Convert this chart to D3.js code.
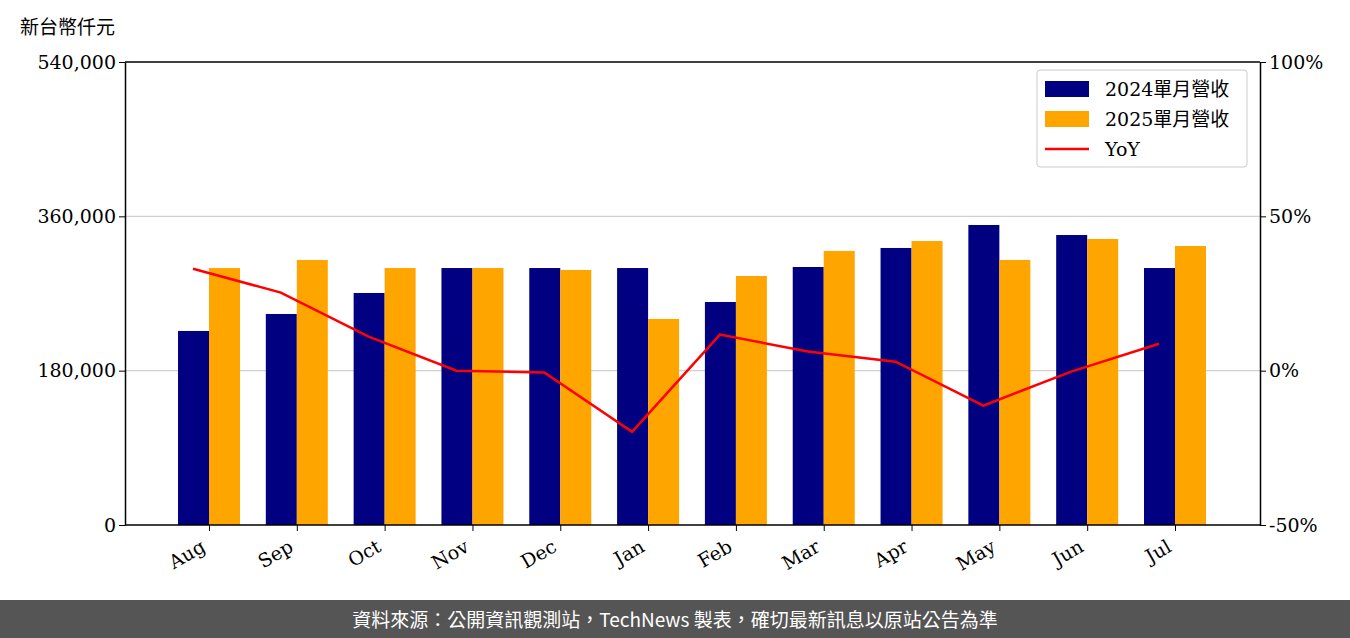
<!DOCTYPE html>
<html><head><meta charset="utf-8">
<script src="https://cdn.jsdelivr.net/npm/d3@7"></script>
<style>body{margin:0;background:#fff}</style>
</head><body><div id="chart"></div>
<script>
var months = ["Aug","Sep","Oct","Nov","Dec","Jan","Feb","Mar","Apr","May","Jun","Jul"];
var rev2024 = [226300,246100,270600,299700,299700,299700,260100,300900,323100,349900,338200,299700];
var rev2025 = [299700,309100,299700,299700,297400,240300,290400,319600,331200,309100,333600,325400];
var yoy = [33.0,25.3,11.0,0.0,-0.6,-19.8,11.7,6.2,2.9,-11.3,-0.3,8.7];
var leftTicks = [0,180000,360000,540000];
var rightTicks = [-50,0,50,100];

var W = 1350, H = 638;
var svg = d3.select("#chart").append("svg").attr("width", W).attr("height", H);
var serif = "'DejaVu Serif', serif", cjk = "'Noto Sans CJK TC', sans-serif";

var x = d3.scalePoint().domain(months).range([209, 1175]);
var y = d3.scaleLinear().domain([0, 540000]).range([525, 62]);
var y2 = d3.scaleLinear().domain([-50, 100]).range([525, 62]);
var bw = 31;

// grid
svg.selectAll(".grid").data(leftTicks.slice(1, 3)).enter().append("line")
  .attr("x1", 125).attr("x2", 1260).attr("y1", d => y(d)).attr("y2", d => y(d))
  .attr("stroke", "#d0d0d0").attr("stroke-width", 1.2);

// bars
svg.selectAll(".b24").data(months).enter().append("rect")
  .attr("x", d => x(d) - bw).attr("width", bw)
  .attr("y", (d, i) => y(rev2024[i])).attr("height", (d, i) => 525 - y(rev2024[i]))
  .attr("fill", "#000080");
svg.selectAll(".b25").data(months).enter().append("rect")
  .attr("x", d => x(d)).attr("width", bw)
  .attr("y", (d, i) => y(rev2025[i])).attr("height", (d, i) => 525 - y(rev2025[i]))
  .attr("fill", "#ffa500");

// yoy line
svg.append("path").datum(yoy)
  .attr("d", d3.line().x((d, i) => x(months[i]) - 16).y(d => y2(d)))
  .attr("fill", "none").attr("stroke", "#ff0000").attr("stroke-width", 2.5);

// axes
var ax = svg.append("g").attr("transform", "translate(125,0)")
  .call(d3.axisLeft(y).tickValues(leftTicks).tickFormat(d3.format(",")).tickSizeOuter(0));
var ar = svg.append("g").attr("transform", "translate(1260,0)")
  .call(d3.axisRight(y2).tickValues(rightTicks).tickFormat(d => d + "%").tickSizeOuter(0));
var ab = svg.append("g").attr("transform", "translate(0,525)")
  .call(d3.axisBottom(x).tickSizeOuter(0).tickFormat(d => d));
ab.selectAll("text").attr("transform", "translate(-14,6)rotate(-30)").style("text-anchor", "end");
ab.select(".domain").attr("d", "M125,0H1260");
[ax, ar, ab].forEach(g => {
  g.selectAll("text").style("font-family", serif).style("font-size", "19px").attr("fill", "#000");
  g.selectAll("line").attr("stroke", "#000");
  g.select(".domain").attr("stroke", "#000").attr("stroke-width", 1.5);
});
svg.append("line").attr("x1", 125).attr("x2", 1260).attr("y1", 62).attr("y2", 62)
  .attr("stroke", "#000").attr("stroke-width", 1.5);

svg.append("text").attr("x", 20).attr("y", 34).text("新台幣仟元")
  .style("font-family", cjk).style("font-size", "19px");

// legend
var lg = svg.append("g").attr("transform", "translate(1037,70)");
lg.append("rect").attr("width", 210).attr("height", 97).attr("rx", 3)
  .attr("fill", "#fff").attr("fill-opacity", 0.85).attr("stroke", "#ccc");
var items = [["2024單月營收", "#000080", "bar"], ["2025單月營收", "#ffa500", "bar"], ["YoY", "#ff0000", "line"]];
items.forEach((it, i) => {
  var cy = 19 + i * 30;
  if (it[2] == "bar") lg.append("rect").attr("x", 8).attr("y", cy - 8).attr("width", 44).attr("height", 16).attr("fill", it[1]);
  else lg.append("line").attr("x1", 8).attr("x2", 52).attr("y1", cy).attr("y2", cy).attr("stroke", it[1]).attr("stroke-width", 2.5);
  lg.append("text").attr("x", 68).attr("y", cy + 7).text(it[0])
    .style("font-family", serif + "," + cjk).style("font-size", "19px");
});

// footer
svg.append("rect").attr("x", 0).attr("y", 600).attr("width", W).attr("height", 38).attr("fill", "#555");
svg.append("text").attr("x", W / 2).attr("y", 627).attr("text-anchor", "middle").attr("fill", "#fff")
  .text("資料來源：公開資訊觀測站，TechNews 製表，確切最新訊息以原站公告為準")
  .style("font-family", cjk).style("font-size", "19px");
</script></body></html>
